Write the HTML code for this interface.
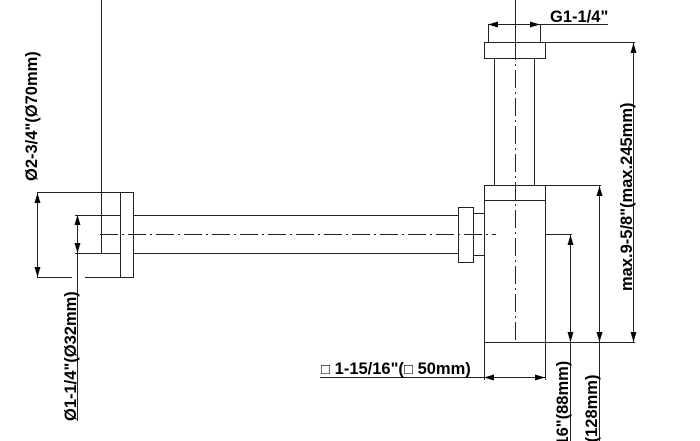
<!DOCTYPE html>
<html><head><style>html,body{margin:0;padding:0;background:#fff;overflow:hidden;width:700px;height:441px}svg{display:block}text{font-family:"Liberation Sans",Arial,sans-serif;font-weight:bold;font-size:16.5px;fill:#000}</style></head>
<body>
<svg width="700" height="441" viewBox="0 0 700 441" xmlns="http://www.w3.org/2000/svg" overflow="hidden">
<defs>
<marker id="a" viewBox="0 0 10 6" refX="10" refY="3" markerWidth="10" markerHeight="6" orient="auto-start-reverse" markerUnits="userSpaceOnUse"><path d="M0,0 L10,3 L0,6 z" fill="#000"/></marker>
</defs>
<g stroke="#222" stroke-width="1" fill="none">
<line x1="101.5" y1="0" x2="101.5" y2="253"/>
<rect x="120.5" y="192.5" width="13" height="85"/>
<line x1="37" y1="192.5" x2="120" y2="192.5"/>
<line x1="37" y1="277.5" x2="72" y2="277.5"/>
<line x1="85" y1="277.5" x2="120" y2="277.5"/>
<line x1="75" y1="215.5" x2="120" y2="215.5"/>
<line x1="75" y1="253.5" x2="120" y2="253.5"/>
<line x1="133" y1="215.5" x2="458" y2="215.5"/>
<line x1="133" y1="253.5" x2="458" y2="253.5"/>
<line x1="100" y1="234.5" x2="496" y2="234.5" stroke-dasharray="18,4,2,4"/>
<line x1="37.5" y1="193" x2="37.5" y2="277" marker-start="url(#a)" marker-end="url(#a)"/>
<line x1="77.5" y1="215" x2="77.5" y2="253" marker-start="url(#a)" marker-end="url(#a)"/>
<line x1="77.5" y1="253" x2="77.5" y2="421"/>
<rect x="458.5" y="207.5" width="15" height="55"/>
<rect x="473.5" y="213.5" width="11" height="42"/>
<rect x="484.5" y="185.5" width="61" height="157"/>
<line x1="484" y1="200.5" x2="545" y2="200.5"/>
<line x1="494.5" y1="58" x2="494.5" y2="185"/>
<line x1="534.5" y1="58" x2="534.5" y2="185"/>
<rect x="484.5" y="42.5" width="61" height="16"/>
<line x1="515.5" y1="0" x2="515.5" y2="42"/>
<line x1="515.5" y1="42" x2="515.5" y2="342" stroke-dasharray="18,4,2,4"/>
<line x1="488.5" y1="24" x2="488.5" y2="43"/>
<line x1="540.5" y1="24" x2="540.5" y2="43"/>
<line x1="488" y1="24.5" x2="540" y2="24.5" marker-start="url(#a)" marker-end="url(#a)"/>
<line x1="540" y1="24.5" x2="608" y2="24.5"/>
<line x1="545" y1="42.5" x2="635" y2="42.5"/>
<line x1="545" y1="342.5" x2="635" y2="342.5"/>
<line x1="633.5" y1="43" x2="633.5" y2="342" marker-start="url(#a)" marker-end="url(#a)"/>
<line x1="545" y1="185.5" x2="601" y2="185.5"/>
<line x1="599.5" y1="186" x2="599.5" y2="342" marker-start="url(#a)" marker-end="url(#a)"/>
<line x1="599.5" y1="342" x2="599.5" y2="441"/>
<line x1="545" y1="234.5" x2="572" y2="234.5"/>
<line x1="570.5" y1="235" x2="570.5" y2="342" marker-start="url(#a)" marker-end="url(#a)"/>
<line x1="570.5" y1="342" x2="570.5" y2="441"/>
<line x1="484.5" y1="342" x2="484.5" y2="380"/>
<line x1="545.5" y1="342" x2="545.5" y2="380"/>
<line x1="484" y1="377.5" x2="545" y2="377.5" marker-start="url(#a)" marker-end="url(#a)"/>
<line x1="320" y1="377.5" x2="484" y2="377.5"/>
</g>
<text x="550" y="22">G1-1/4"</text>
<text x="321" y="374"><tspan font-size="15">□</tspan> 1-15/16"(<tspan font-size="15">□</tspan> 50mm)</text>
<text transform="translate(37,181) rotate(-90)">Ø2-3/4"(Ø70mm)</text>
<text transform="translate(76,421) rotate(-90)">Ø1-1/4"(Ø32mm)</text>
<text transform="translate(632,291) rotate(-90)">max.9-5/8"(max.245mm)</text>
<text transform="translate(568,474) rotate(-90)">3-7/16"(88mm)</text>
<text transform="translate(597,497) rotate(-90)">5-1/16"(128mm)</text>
</svg>
</body></html>
